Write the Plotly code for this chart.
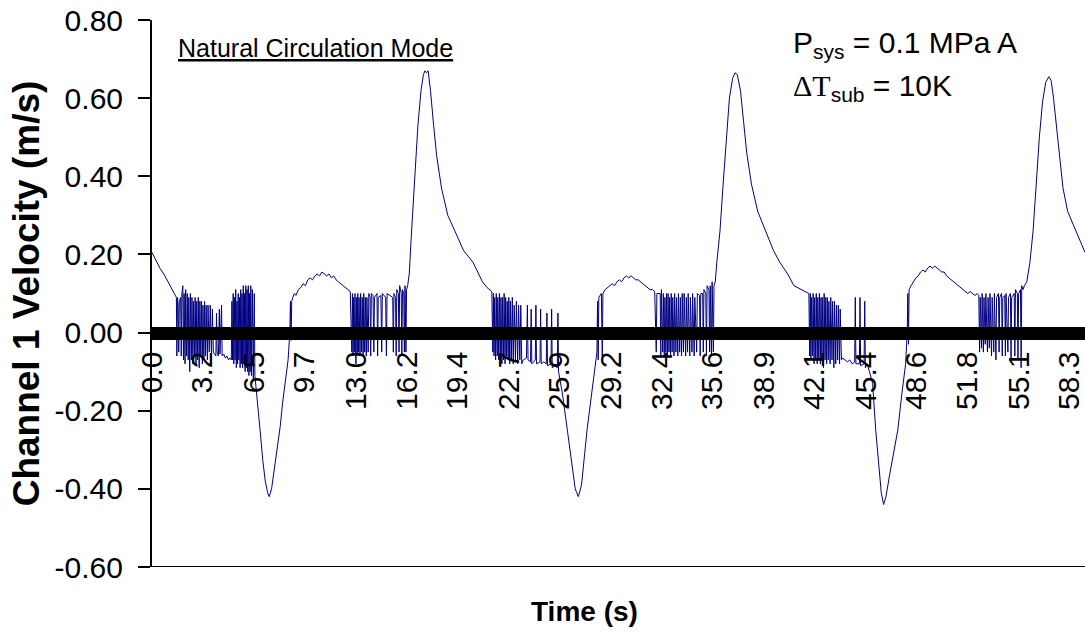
import plotly.graph_objects as go

# ---------------- data ----------------
# Cycle 1: initial decay, chatter burst A, low plateau, burst B
T_START = [0.00, 0.25, 0.50, 0.75, 1.00, 1.20, 1.40, 1.55]
V_START = [0.205, 0.185, 0.165, 0.150, 0.130, 0.115, 0.100, 0.090]

T_BURST_A = [1.58, 1.62, 1.66, 1.70, 1.74, 1.82, 1.86, 1.90, 1.96, 2.00, 2.04, 2.10, 2.14, 2.20,
             2.24, 2.30, 2.34, 2.40, 2.44, 2.50, 2.54, 2.60, 2.64, 2.70, 2.74, 2.80, 2.84, 2.90,
             2.94, 3.00, 3.04, 3.10, 3.14, 3.20, 3.24, 3.30, 3.34, 3.40, 3.44, 3.52, 3.56, 3.64,
             3.70, 3.78, 3.84, 3.90, 3.98, 4.06, 4.10, 4.14, 4.22, 4.28, 4.32, 4.42, 4.46, 4.56,
             4.66, 4.76, 4.86, 4.96, 5.04]
V_BURST_A = [-0.06, 0.09, 0.07, -0.05, 0.08, 0.09, -0.06, 0.10, 0.12, -0.07, 0.10, -0.08, 0.11, -0.06,
             0.10, -0.07, 0.09, -0.10, 0.10, -0.07, 0.09, -0.08, 0.08, -0.06, 0.09, -0.08, 0.08, -0.07,
             0.09, -0.09, 0.08, -0.06, 0.08, -0.08, 0.07, -0.07, 0.08, -0.06, 0.07, -0.07, 0.07, -0.05,
             0.07, -0.06, 0.06, -0.05, -0.055, -0.06, 0.05, -0.05, -0.06, 0.06, -0.055, 0.07, -0.06, -0.055,
             -0.065, -0.06, -0.07, -0.065, -0.07]

T_BURST_B = [5.08, 5.12, 5.16, 5.20, 5.24, 5.28, 5.32, 5.36, 5.40, 5.44, 5.48, 5.52, 5.56, 5.60,
             5.64, 5.68, 5.72, 5.76, 5.80, 5.84, 5.88, 5.92, 5.96, 6.00, 6.04, 6.08, 6.12, 6.16,
             6.20, 6.24, 6.28, 6.32, 6.38, 6.44, 6.50, 6.54]
V_BURST_B = [0.08, -0.07, 0.10, -0.08, 0.09, -0.07, 0.11, -0.09, 0.08, -0.08, 0.10, -0.07, 0.09, -0.09,
             0.11, -0.08, 0.10, -0.09, 0.12, -0.08, 0.10, -0.10, 0.12, -0.09, 0.11, -0.10, 0.12, -0.11,
             0.10, -0.10, 0.12, -0.11, 0.11, -0.12, 0.10, -0.11]

T_TROUGH_1 = [6.70, 6.87, 7.05, 7.20, 7.35, 7.45, 7.60, 7.80, 8.00, 8.15, 8.30, 8.50, 8.65, 8.76, 8.80, 8.84, 8.88]
V_TROUGH_1 = [-0.17, -0.25, -0.33, -0.38, -0.41, -0.42, -0.40, -0.34, -0.28, -0.24, -0.18, -0.11, -0.07, 0.00, 0.08, -0.02, 0.08]

T_HUMP_1 = [8.95, 9.05, 9.15, 9.30, 9.45, 9.60, 9.75, 9.90, 10.05, 10.20, 10.35, 10.50, 10.65, 10.80,
            10.95, 11.10, 11.25, 11.40, 11.55, 11.70, 11.85, 12.00, 12.15, 12.30, 12.45, 12.60]
V_HUMP_1 = [0.09, 0.10, 0.095, 0.11, 0.115, 0.125, 0.12, 0.135, 0.14, 0.135, 0.145, 0.15, 0.145, 0.155,
            0.15, 0.145, 0.15, 0.14, 0.145, 0.135, 0.13, 0.125, 0.12, 0.115, 0.11, 0.105]

T_BURST_C1 = [12.70, 12.74, 12.78, 12.82, 12.86, 12.90, 12.96, 13.00, 13.04, 13.08, 13.12, 13.16, 13.22,
              13.26, 13.32, 13.36, 13.42, 13.46, 13.52, 13.56, 13.62, 13.66, 13.74, 13.78, 13.86, 13.90,
              13.94, 14.05, 14.10, 14.14, 14.30, 14.34, 14.38, 14.55, 14.60, 14.64, 14.85, 14.90, 14.94,
              15.10, 15.30, 15.34, 15.38, 15.48, 15.52, 15.56, 15.66, 15.70, 15.74, 15.84, 15.88, 15.92,
              16.00, 16.04, 16.08, 16.14, 16.18]
V_BURST_C1 = [-0.05, 0.10, -0.06, 0.09, -0.05, 0.10, -0.08, 0.09, -0.06, 0.10, -0.05, 0.09, -0.06,
              0.10, -0.05, 0.09, -0.06, 0.10, -0.05, 0.09, -0.06, 0.09, -0.05, 0.10, 0.09, -0.06,
              0.10, 0.095, -0.05, 0.09, 0.10, -0.06, 0.09, 0.095, -0.05, 0.10, 0.09, -0.06, 0.10,
              0.095, 0.09, -0.05, 0.10, 0.09, -0.06, 0.11, 0.10, -0.05, 0.12, 0.10, -0.06, 0.11,
              0.10, -0.05, 0.12, -0.05, 0.11]

T_PEAK_1 = [16.25, 16.35, 16.50, 16.70, 16.90, 17.10, 17.25, 17.35, 17.45, 17.55, 17.70, 17.90, 18.10,
            18.40, 18.80, 19.25, 19.80, 20.40, 20.70, 21.00, 21.30, 21.60]
V_PEAK_1 = [0.12, 0.15, 0.26, 0.40, 0.53, 0.62, 0.66, 0.67, 0.665, 0.67, 0.62, 0.53, 0.45,
            0.37, 0.30, 0.26, 0.21, 0.18, 0.155, 0.13, 0.115, 0.105]

# Cycle 2
T_BURST_C2 = [21.66, 21.70, 21.74, 21.78, 21.84, 21.88, 21.94, 21.98, 22.04, 22.08, 22.14, 22.18, 22.24,
              22.28, 22.34, 22.38, 22.44, 22.48, 22.54, 22.58, 22.64, 22.68, 22.74, 22.78, 22.84, 22.90,
              22.96, 23.02, 23.10, 23.16, 23.24, 23.30, 23.38, 23.44, 23.50, 23.60, 23.80, 23.86, 23.90,
              24.06, 24.10, 24.14, 24.36, 24.40, 24.44, 24.66, 24.70, 24.74, 24.90, 25.06, 25.10, 25.14,
              25.36, 25.40, 25.44, 25.60, 25.76, 25.80, 25.84]
V_BURST_C2 = [-0.05, 0.10, -0.06, 0.09, -0.07, 0.10, -0.06, 0.09, -0.07, 0.10, -0.06, 0.09, -0.08,
              0.09, -0.07, 0.10, -0.08, 0.09, -0.06, 0.08, -0.07, 0.09, -0.08, 0.08, -0.07, 0.09,
              -0.08, 0.07, -0.07, 0.08, -0.08, 0.07, -0.07, 0.07, -0.08, -0.07, -0.065, 0.07, -0.07,
              -0.075, 0.06, -0.08, -0.07, 0.07, -0.08, -0.075, 0.06, -0.08, -0.075, -0.08, 0.05, -0.085,
              -0.08, 0.06, -0.09, -0.085, -0.09, 0.05, -0.10]

T_TROUGH_2 = [25.94, 26.10, 26.40, 26.65, 26.90, 27.10, 27.30, 27.50, 27.65, 27.90, 28.10, 28.28, 28.32,
              28.36, 28.40, 28.56, 28.62, 28.66, 28.80]
V_TROUGH_2 = [-0.12, -0.16, -0.25, -0.33, -0.40, -0.42, -0.39, -0.31, -0.25, -0.17, -0.11, -0.05, 0.08,
              -0.07, 0.09, 0.10, -0.06, 0.10, 0.11]

T_HUMP_2 = [28.95, 29.10, 29.25, 29.40, 29.55, 29.70, 29.85, 30.00, 30.15, 30.30, 30.45, 30.60, 30.75,
            30.90, 31.05, 31.20, 31.35, 31.50, 31.65, 31.80, 31.95]
V_HUMP_2 = [0.115, 0.12, 0.125, 0.12, 0.13, 0.135, 0.13, 0.14, 0.145, 0.14, 0.145, 0.14, 0.135,
            0.135, 0.13, 0.125, 0.12, 0.115, 0.11, 0.11, 0.105]

T_BURST_D = [32.05, 32.09, 32.30, 32.34, 32.38, 32.46, 32.50, 32.56, 32.60, 32.66, 32.70, 32.76, 32.80,
             32.86, 32.90, 32.96, 33.00, 33.06, 33.10, 33.18, 33.22, 33.30, 33.34, 33.42, 33.46, 33.54,
             33.58, 33.66, 33.70, 33.78, 33.82, 33.92, 33.96, 34.04, 34.08, 34.18, 34.22, 34.32, 34.36,
             34.46, 34.50, 34.62, 34.66, 34.80, 34.84, 34.88, 35.00, 35.04, 35.08, 35.20, 35.24, 35.28,
             35.40, 35.44, 35.48, 35.56, 35.60, 35.68, 35.72]
V_BURST_D = [-0.05, 0.10, 0.10, -0.06, 0.11, -0.05, 0.10, -0.06, 0.09, -0.05, 0.10, -0.06, 0.10,
             -0.05, 0.09, -0.06, 0.10, -0.05, 0.09, -0.06, 0.10, -0.05, 0.09, -0.06, 0.10, -0.05,
             0.09, -0.06, 0.10, -0.05, 0.10, -0.06, 0.09, -0.05, 0.10, -0.06, 0.09, -0.05, 0.10,
             -0.06, 0.09, -0.05, 0.10, 0.095, -0.06, 0.10, 0.10, -0.05, 0.11, 0.10, -0.06, 0.12,
             0.11, -0.05, 0.12, -0.06, 0.13, -0.05, 0.12]

T_PEAK_2 = [35.80, 35.90, 36.10, 36.30, 36.50, 36.70, 36.90, 37.05, 37.20, 37.40, 37.60, 37.80, 38.10,
            38.50, 39.00, 39.50, 39.90, 40.40, 40.80, 41.30, 41.75]
V_PEAK_2 = [0.13, 0.18, 0.26, 0.38, 0.50, 0.60, 0.65, 0.665, 0.66, 0.62, 0.54, 0.46, 0.38,
            0.31, 0.26, 0.21, 0.18, 0.15, 0.12, 0.11, 0.10]

# Cycle 3
T_BURST_E = [41.80, 41.84, 41.88, 41.92, 41.98, 42.02, 42.08, 42.12, 42.18, 42.22, 42.28, 42.32, 42.38,
             42.42, 42.48, 42.52, 42.58, 42.62, 42.68, 42.72, 42.78, 42.82, 42.88, 42.92, 42.98, 43.02,
             43.10, 43.14, 43.22, 43.26, 43.34, 43.38, 43.46, 43.50, 43.58, 43.62, 43.70, 43.74, 43.82,
             43.90, 44.05, 44.20, 44.35, 44.50, 44.66, 44.70, 44.74, 44.96, 45.00, 45.04, 45.26, 45.30, 45.34]
V_BURST_E = [-0.06, 0.10, -0.07, 0.09, -0.06, 0.10, -0.08, 0.09, -0.07, 0.10, -0.08, 0.09, -0.07,
             0.10, -0.08, 0.09, -0.07, 0.09, -0.09, 0.10, -0.07, 0.09, -0.08, 0.09, -0.07, 0.08,
             -0.08, 0.09, -0.07, 0.08, -0.09, 0.08, -0.08, 0.07, -0.07, 0.07, -0.08, 0.06, -0.07,
             -0.065, -0.07, -0.075, -0.07, -0.08, -0.075, 0.09, -0.08, -0.08, 0.09, -0.085, -0.08, 0.08, -0.09]

T_TROUGH_3 = [45.45, 45.60, 45.80, 46.00, 46.20, 46.35, 46.50, 46.65, 46.90, 47.15, 47.40, 47.65, 47.90,
              48.00, 48.04, 48.08, 48.12]
V_TROUGH_3 = [-0.08, -0.10, -0.13, -0.25, -0.35, -0.41, -0.44, -0.42, -0.36, -0.30, -0.25, -0.16, -0.08,
              0.00, 0.10, -0.03, 0.11]

T_HUMP_3 = [48.25, 48.40, 48.55, 48.70, 48.85, 49.00, 49.15, 49.30, 49.45, 49.60, 49.75, 49.90, 50.05,
            50.20, 50.35, 50.50, 50.65, 50.80, 50.95, 51.10, 51.25, 51.40, 51.55, 51.70, 51.85, 52.00,
            52.15, 52.30, 52.45, 52.55]
V_HUMP_3 = [0.12, 0.13, 0.14, 0.145, 0.155, 0.16, 0.155, 0.165, 0.17, 0.165, 0.17, 0.165, 0.16,
            0.155, 0.155, 0.145, 0.14, 0.135, 0.13, 0.125, 0.12, 0.115, 0.11, 0.105, 0.10, 0.105,
            0.10, 0.095, 0.10, 0.095]

T_BURST_F = [52.60, 52.64, 52.72, 52.76, 52.84, 52.88, 52.96, 53.00, 53.10, 53.14, 53.22, 53.26, 53.36,
             53.40, 53.50, 53.54, 53.64, 53.68, 53.80, 53.84, 53.88, 54.00, 54.04, 54.08, 54.20, 54.24,
             54.28, 54.40, 54.44, 54.56, 54.60, 54.64, 54.80, 54.84, 54.88, 55.00, 55.04, 55.08, 55.20,
             55.24, 55.28, 55.36]
V_BURST_F = [-0.05, 0.09, -0.04, 0.10, -0.05, 0.09, -0.03, 0.10, -0.05, 0.09, -0.04, 0.10, -0.06,
             0.09, -0.05, 0.10, -0.07, 0.09, 0.10, -0.05, 0.09, 0.10, -0.06, 0.09, 0.095, -0.06,
             0.10, -0.05, 0.09, 0.10, -0.07, 0.09, 0.10, -0.06, 0.11, 0.10, -0.07, 0.10, 0.11,
             -0.09, 0.12, 0.11]

T_PEAK_3 = [55.45, 55.60, 55.80, 56.00, 56.20, 56.40, 56.60, 56.80, 57.00, 57.15, 57.30, 57.50, 57.70,
            57.90, 58.20, 58.60, 59.00, 59.30]
V_PEAK_3 = [0.12, 0.13, 0.18, 0.26, 0.38, 0.50, 0.59, 0.64, 0.655, 0.645, 0.60, 0.52, 0.44,
            0.37, 0.31, 0.27, 0.23, 0.205]

X_TICK_LABELS = ["0.0", "3.2", "6.5", "9.7", "13.0", "16.2", "19.4", "22.7", "25.9", "29.2",
                 "32.4", "35.6", "38.9", "42.1", "45.4", "48.6", "51.8", "55.1", "58.3"]
Y_TICK_VALUES = [0.8, 0.6, 0.4, 0.2, 0.0, -0.2, -0.4, -0.6]
Y_TICK_LABELS = ["0.80", "0.60", "0.40", "0.20", "0.00", "-0.20", "-0.40", "-0.60"]

# ---------------- assemble ----------------
segments_t = [T_START, T_BURST_A, T_BURST_B, T_TROUGH_1, T_HUMP_1, T_BURST_C1, T_PEAK_1,
              T_BURST_C2, T_TROUGH_2, T_HUMP_2, T_BURST_D, T_PEAK_2,
              T_BURST_E, T_TROUGH_3, T_HUMP_3, T_BURST_F, T_PEAK_3]
segments_v = [V_START, V_BURST_A, V_BURST_B, V_TROUGH_1, V_HUMP_1, V_BURST_C1, V_PEAK_1,
              V_BURST_C2, V_TROUGH_2, V_HUMP_2, V_BURST_D, V_PEAK_2,
              V_BURST_E, V_TROUGH_3, V_HUMP_3, V_BURST_F, V_PEAK_3]
time = [t for seg in segments_t for t in seg]
vel = [v for seg in segments_v for v in seg]

FONT = "Arial, 'Liberation Sans', sans-serif"

fig = go.Figure()
fig.add_trace(go.Scatter(x=time, y=vel, mode="lines",
                         line=dict(color="#000080", width=1), showlegend=False,
                         hoverinfo="skip"))

# bottom frame line at -0.6
fig.add_shape(type="line", xref="paper", yref="y", x0=0, x1=1, y0=-0.6, y1=-0.6,
              line=dict(color="black", width=2))

fig.update_layout(
    width=1085, height=636,
    margin=dict(l=152, r=0, t=20, b=69),
    paper_bgcolor="white", plot_bgcolor="white",
    font=dict(family=FONT, color="black"),
    xaxis=dict(
        range=[0, 59.3], anchor="free", position=0.6 / 1.4,
        showline=True, linecolor="black", linewidth=13,
        showgrid=False, zeroline=False, ticks="",
        tickmode="array", tickvals=[float(s) for s in X_TICK_LABELS], ticktext=X_TICK_LABELS,
        tickangle=-90, tickfont=dict(size=30, family=FONT, color="black"),
        ticklabeloverflow="allow",
    ),
    yaxis=dict(
        range=[-0.6, 0.8], showline=True, linecolor="black", linewidth=2,
        showgrid=False, zeroline=False,
        ticks="outside", ticklen=12, tickwidth=2, tickcolor="black",
        tickmode="array", tickvals=Y_TICK_VALUES, ticktext=Y_TICK_LABELS,
        tickfont=dict(size=30, family=FONT, color="black"),
        ticklabelstandoff=9,
        title=dict(text="<b>Channel 1 Velocity (m/s)</b>", font=dict(size=37, family=FONT, color="black"),
                   standoff=4),
    ),
    annotations=[
        dict(text="<b>Time (s)</b>", xref="paper", yref="paper", x=0.464, y=-0.082,
             xanchor="center", yanchor="middle", showarrow=False,
             font=dict(size=28, family=FONT, color="black")),
        dict(text="<u>Natural Circulation Mode</u>", xref="paper", yref="paper", x=0.026, y=0.949,
             xanchor="left", yanchor="middle", showarrow=False,
             font=dict(size=25, family=FONT, color="black")),
        dict(text="P<sub>sys</sub> = 0.1 MPa A", xref="paper", yref="paper", x=0.685, y=0.955,
             xanchor="left", yanchor="middle", showarrow=False,
             font=dict(size=30, family=FONT, color="black")),
        dict(text="<span style=\"font-family:'Liberation Serif', 'Times New Roman', serif\">ΔT</span><sub>sub</sub> = 10K",
             xref="paper", yref="paper", x=0.685, y=0.877,
             xanchor="left", yanchor="middle", showarrow=False,
             font=dict(size=30, family=FONT, color="black")),
    ],
)

fig.write_html("out.html")
